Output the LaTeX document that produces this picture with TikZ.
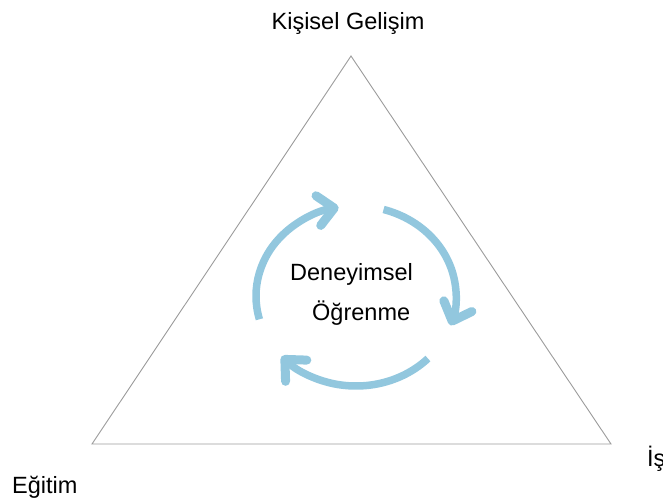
\documentclass[tikz,border=0pt]{standalone}
\usepackage{fontspec}
\setmainfont{Liberation Sans}
\usetikzlibrary{arrows.meta,calc}
\definecolor{cyclearrow}{RGB}{146,199,222}
\definecolor{frameline}{RGB}{155,155,155}
\begin{document}
\begin{tikzpicture}[x=1pt,y=1pt,
  label text/.style={inner sep=0pt, font=\fontsize{23.5}{28}\selectfont, text=black},
  cycle arc/.style={draw=cyclearrow, line width=7.5pt,
    -{Straight Barb[length=16pt, width=30pt, line width=9pt, round]}},
  frame/.style={draw=frameline, line width=0.9pt}]
  \useasboundingbox (0,0) rectangle (663,-500);

  % triangle corners
  \coordinate (top) at (351,-56);
  \coordinate (left) at (92,-444);
  \coordinate (right) at (611,-444);
  \draw[frame] (top) -- (right) -- (left) -- cycle;

  % corner labels
  \node[label text, anchor=base] (kg) at (348,-30) {Kişisel Gelişim};
  \node[label text, anchor=base west] (eg) at (12,-493) {Eğitim};
  \node[label text, anchor=base west] (is) at (647,-466) {İş};

  % cycle of three arrows around the centre
  \coordinate (c) at (356,-296);
  \draw[cycle arc] ($(c)+(195:100 and 90)$) arc[start angle=195, end angle=100, x radius=100, y radius=90];
  \draw[cycle arc] ($(c)+(74:100 and 90)$) arc[start angle=74, end angle=-19, x radius=100, y radius=90];
  \draw[cycle arc] ($(c)+(-44:100 and 90)$) arc[start angle=-44, end angle=-138, x radius=100, y radius=90];

  % centre label
  \node[label text, anchor=base west] (d1) at (290,-280) {Deneyimsel};
  \node[label text, anchor=base west] (d2) at (312,-320) {Öğrenme};
\end{tikzpicture}
\end{document}
